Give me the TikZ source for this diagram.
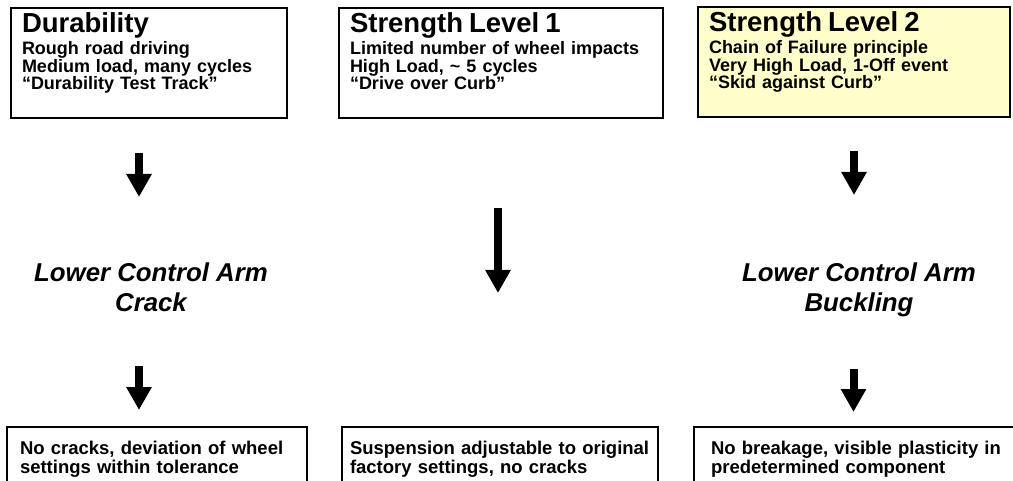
\documentclass[tikz,border=0pt]{standalone}
\usepackage{fontspec}
\setmainfont{Liberation Sans}
\usetikzlibrary{arrows.meta}
\definecolor{paleyellow}{RGB}{255,255,204}

\begin{document}
\begin{tikzpicture}[x=1pt,y=-1pt,
    testbox/.style={draw,line width=1.5pt,anchor=base west,align=left,outer sep=0pt,
      inner xsep=11pt,inner ysep=0pt,text height=25pt,text depth=85pt,
      font=\fontsize{18}{17.5}\selectfont\bfseries},
    resultbox/.style={draw,line width=1.5pt,anchor=base west,align=left,outer sep=0pt,
      inner ysep=0pt,text height=27pt,text depth=60pt,
      font=\fontsize{18.5}{19}\selectfont\bfseries},
    failure/.style={anchor=base,align=center,font=\fontsize{25.8}{30.5}\selectfont\bfseries\itshape},
    bigarrow/.style={line width=8pt,-{Triangle[width=24pt,length=23pt]}}]

  \useasboundingbox (0,0) rectangle (1013,481);
  \clip (0,0) rectangle (1013,481);

  % load cases
  \node[testbox,text width=254pt] (dur) at (11,33)
    {{\fontsize{27.5}{27}\selectfont Durability}\\[2pt]
     Rough road driving\\
     Medium load, many cycles\\
     “Durability Test Track”};
  \node[testbox,text width=302pt] (sl1) at (339,33)
    {{\fontsize{27.5}{27}\selectfont Strength Level 1}\\[2pt]
     Limited number of wheel impacts\\
     High Load, \textasciitilde{} 5 cycles\\
     “Drive over Curb”};
  \node[testbox,fill=paleyellow,text width=290pt] (sl2) at (698,32)
    {{\fontsize{27.5}{27}\selectfont Strength Level 2}\\[2pt]
     Chain of Failure principle\\
     Very High Load, 1-Off event\\
     “Skid against Curb”};

  % failure modes
  \node[failure] (crack) at (151,312) {Lower Control Arm\\Crack};
  \node[failure] (buckl) at (859,312) {Lower Control Arm\\Buckling};

  % requirements
  \node[resultbox,inner xsep=13pt,text width=274pt] (res1) at (7,454)
    {No cracks, deviation of wheel\\settings within tolerance};
  \node[resultbox,inner xsep=8pt,text width=300pt] (res2) at (342,454)
    {Suspension adjustable to original\\factory settings, no cracks};
  \node[resultbox,inner xsep=17pt,text width=310pt] (res3) at (694,454)
    {No breakage, visible plasticity in\\predetermined component};

  \draw[bigarrow] (dur.south) ++(-10,35) -- ++(0,44);
  \draw[bigarrow] (sl1.south) ++(-3,90) -- ++(0,85);
  \draw[bigarrow] (sl2.south) ++(0,34) -- ++(0,44);
  \draw[bigarrow] (dur.south |- res1.north) ++(-10,-61) -- ++(0,44);
  \draw[bigarrow] (sl2.south |- res3.north) ++(-0.5,-58) -- ++(0,43);
\end{tikzpicture}
\end{document}
